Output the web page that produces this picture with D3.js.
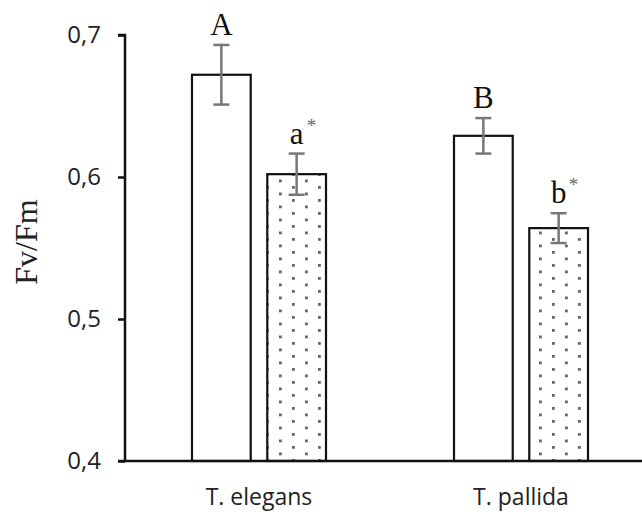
<!DOCTYPE html>
<html>
<head>
<meta charset="utf-8">
<script src="https://cdn.jsdelivr.net/npm/d3@7"></script>
<style>
  body { margin: 0; background: #fff; }
  svg { display: block; }
</style>
</head>
<body>
<div id="chart"></div>
<script>
const species = ['T. elegans', 'T. pallida'];
const treatments = ['control', 'treated'];
const means = [[0.672, 0.602], [0.629, 0.564]];
const errors = [[0.021, 0.0145], [0.0125, 0.0105]];
const letters = [['A', 'a'], ['B', 'b']];
const stars = [[false, true], [false, true]];
const yTicks = [0.4, 0.5, 0.6, 0.7];

const width = 642,
  height = 516;

const svg = d3
  .select('#chart')
  .append('svg')
  .attr('width', width)
  .attr('height', height);

// dotted fill for treated bars
const pat = svg
  .append('defs')
  .append('pattern')
  .attr('id', 'dots')
  .attr('patternUnits', 'userSpaceOnUse')
  .attr('x', 4)
  .attr('y', 2)
  .attr('width', 26)
  .attr('height', 13);
pat.append('rect').attr('width', 26).attr('height', 13).attr('fill', '#fff');
pat.append('rect').attr('x', 2).attr('y', 2).attr('width', 2.8).attr('height', 2.8).attr('fill', '#666');
pat.append('rect').attr('x', 15).attr('y', 8.5).attr('width', 2.8).attr('height', 2.8).attr('fill', '#666');

const x0 = d3.scaleBand().domain(species).range([128, 652]);
const x1 = d3.scaleBand().domain(treatments).range([64, 198]).paddingInner(0.22);
const y = d3.scaleLinear().domain([0.4, 0.7]).range([461, 35]);

const rows = [];
species.forEach((s, i) => {
  treatments.forEach((t, j) => {
    rows.push({
      s, t,
      mean: means[i][j],
      err: errors[i][j],
      letter: letters[i][j],
      star: stars[i][j],
    });
  });
});

const bars = svg.append('g');
bars
  .selectAll('rect')
  .data(rows)
  .enter()
  .append('rect')
  .attr('x', d => x0(d.s) + x1(d.t))
  .attr('y', d => y(d.mean))
  .attr('width', x1.bandwidth())
  .attr('height', d => y(0.4) - y(d.mean))
  .attr('fill', d => (d.t === 'treated' ? 'url(#dots)' : '#fff'))
  .attr('stroke', '#111')
  .attr('stroke-width', 2.2);

// error bars
const cx = d => x0(d.s) + x1(d.t) + x1.bandwidth() / 2;
const eb = svg.append('g').attr('stroke', '#777').attr('stroke-width', 2.5);
eb.selectAll('.v')
  .data(rows)
  .enter()
  .append('line')
  .attr('class', 'v')
  .attr('x1', cx)
  .attr('x2', cx)
  .attr('y1', d => y(d.mean + d.err))
  .attr('y2', d => y(d.mean - d.err));
[1, -1].forEach((sign, k) => {
  eb.selectAll('.cap' + k)
    .data(rows)
    .enter()
    .append('line')
    .attr('class', 'cap' + k)
    .attr('x1', d => cx(d) - 8)
    .attr('x2', d => cx(d) + 8)
    .attr('y1', d => y(d.mean + sign * d.err))
    .attr('y2', d => y(d.mean + sign * d.err));
});

// significance letters
const lab = svg.append('g').attr('font-family', '"Liberation Serif", "Times New Roman", serif');
lab.selectAll('.letter')
  .data(rows)
  .enter()
  .append('text')
  .attr('class', 'letter')
  .attr('x', cx)
  .attr('y', d => y(d.mean + d.err) - 10)
  .attr('text-anchor', 'middle')
  .attr('font-size', 31)
  .attr('fill', '#111')
  .text(d => d.letter);
lab.selectAll('.star')
  .data(rows.filter(d => d.star))
  .enter()
  .append('text')
  .attr('class', 'star')
  .attr('x', d => cx(d) + 10)
  .attr('y', d => y(d.mean + d.err) - 22)
  .attr('font-size', 19)
  .attr('fill', '#666')
  .text('*');

// y axis
const yAxis = svg
  .append('g')
  .attr('transform', 'translate(125,0)')
  .call(
    d3.axisLeft(y)
      .tickValues(yTicks)
      .tickSize(7)
      .tickPadding(17)
      .tickFormat(d => d3.format('.1f')(d).replace('.', ','))
  );
yAxis.select('.domain').attr('stroke', '#111').attr('stroke-width', 2.5).attr('d', 'M-7,35H0V461');
yAxis.selectAll('.tick line').attr('stroke', '#111').attr('stroke-width', 2.5);
yAxis.selectAll('.tick text')
  .attr('font-family', '"Open Sans", "Liberation Sans", sans-serif')
  .attr('font-size', 24)
  .attr('fill', '#222');

// x axis line
svg.append('line')
  .attr('x1', 118)
  .attr('x2', width)
  .attr('y1', y(0.4))
  .attr('y2', y(0.4))
  .attr('stroke', '#111')
  .attr('stroke-width', 2.5);

// category labels
svg.append('g')
  .selectAll('text')
  .data(species)
  .enter()
  .append('text')
  .attr('x', d => x0(d) + 131)
  .attr('y', 505)
  .attr('text-anchor', 'middle')
  .attr('font-family', '"Open Sans", "Liberation Sans", sans-serif')
  .attr('font-size', 23)
  .attr('fill', '#222')
  .text(d => d);

// y title
svg.append('text')
  .attr('transform', 'translate(37,242) rotate(-90)')
  .attr('text-anchor', 'middle')
  .attr('font-family', '"Liberation Serif", "Times New Roman", serif')
  .attr('font-size', 32)
  .attr('fill', '#222')
  .text('Fv/Fm');
</script>
</body>
</html>
